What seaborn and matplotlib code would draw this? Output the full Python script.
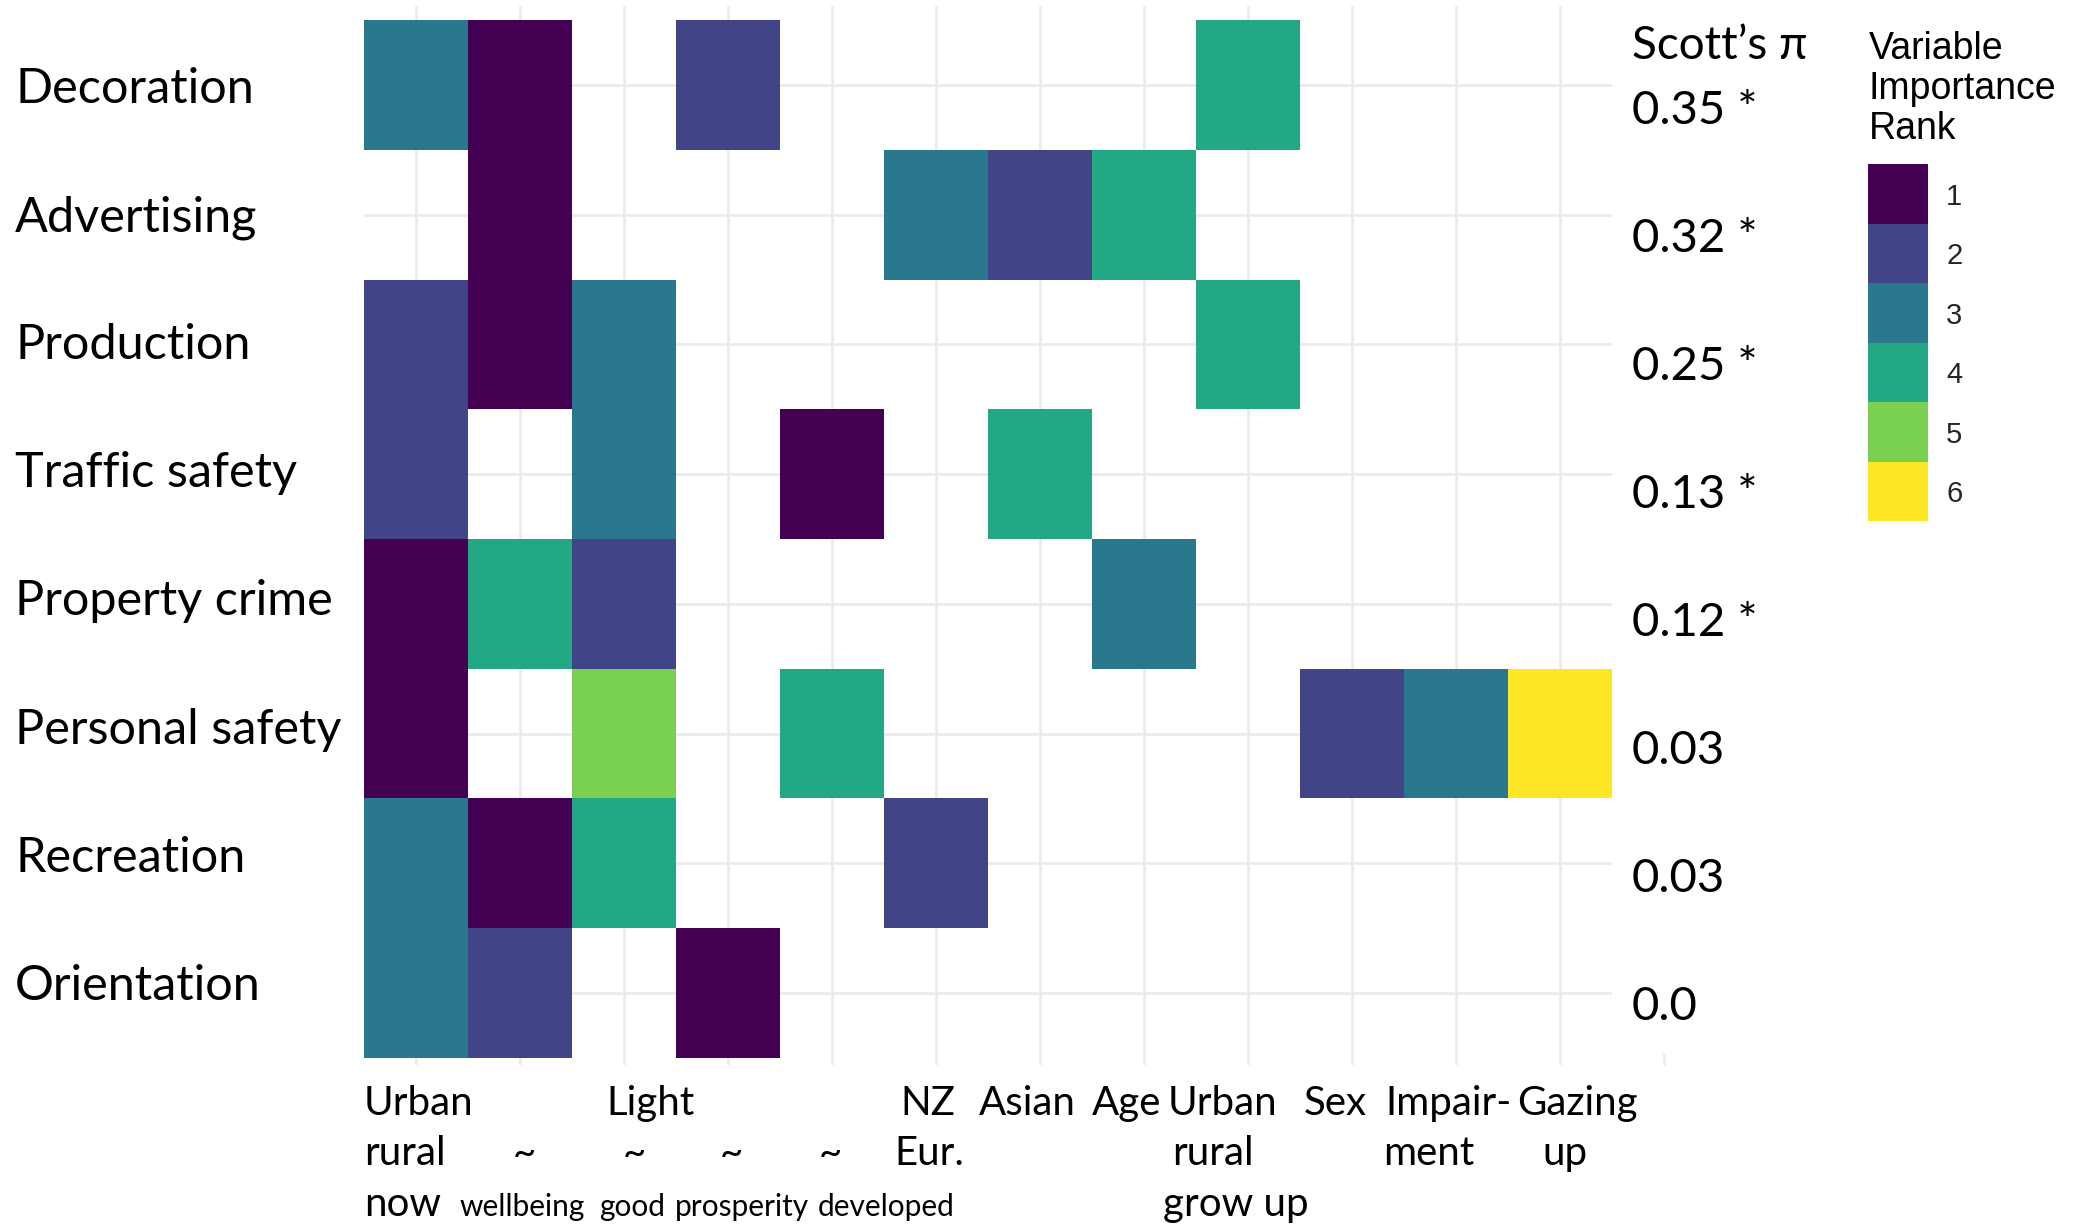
import numpy as np
import pandas as pd
import matplotlib
matplotlib.use("Agg")
import matplotlib.pyplot as plt
import matplotlib.transforms as mtransforms
from matplotlib.colors import ListedColormap
import seaborn as sns

# ---- data -------------------------------------------------------------
outcomes = ["Decoration", "Advertising", "Production", "Traffic safety",
            "Property crime", "Personal safety", "Recreation", "Orientation"]
predictors = ["Urban rural now", "~ wellbeing", "Light ~ good", "~ prosperity",
              "~ developed", "NZ Eur.", "Asian", "Age", "Urban rural grow up",
              "Sex", "Impairment", "Gazing up"]

nan = np.nan
rank_decoration = [3, 1, nan, 2, nan, nan, nan, nan, 4, nan, nan, nan]
rank_advertising = [nan, 1, nan, nan, nan, 3, 2, 4, nan, nan, nan, nan]
rank_production = [2, 1, 3, nan, nan, nan, nan, nan, 4, nan, nan, nan]
rank_traffic = [2, nan, 3, nan, 1, nan, 4, nan, nan, nan, nan, nan]
rank_property = [1, 4, 2, nan, nan, nan, nan, 3, nan, nan, nan, nan]
rank_personal = [1, nan, 5, nan, 4, nan, nan, nan, nan, 2, 3, 6]
rank_recreation = [3, 1, 4, nan, nan, 2, nan, nan, nan, nan, nan, nan]
rank_orientation = [3, 2, nan, 1, nan, nan, nan, nan, nan, nan, nan, nan]

scotts_pi = ["0.35 *", "0.32 *", "0.25 *", "0.13 *", "0.12 *", "0.03", "0.03", "0.0"]
rank_levels = [1, 2, 3, 4, 5, 6]

x_label_lines = [
    ("Urban", "rural", "now"),
    ("", "~", "wellbeing"),
    ("Light", "~", "good"),
    ("", "~", "prosperity"),
    ("", "~", "developed"),
    ("NZ", "Eur.", ""),
    ("Asian", "", ""),
    ("Age", "", ""),
    ("Urban", "rural", "grow up"),
    ("Sex", "", ""),
    ("Impair-", "ment", ""),
    ("Gazing", "up", ""),
]

# ---- layout (label placement in column units) --------------------------
x_label_centers = [
    (0.52, 0.39, 0.37),
    (None, 1.54, 1.52),
    (2.75, 2.60, 2.58),
    (None, 3.53, 3.63),
    (None, 4.48, 5.02),
    (5.42, 5.44, None),
    (6.38, None, None),
    (7.33, None, None),
    (8.25, 8.16, 8.38),
    (9.34, None, None),
    (10.43, 10.24, None),
    (11.67, 11.55, None),
]
small_third_line = {1, 2, 3, 4}
line_baselines_px = [1115, 1165, 1216]

W, H = 2092, 1226
ROW_PX = 129.75
GRID = "#EBEBEB"
TEXT_FONT = ["Lato", "DejaVu Sans"]
LEGEND_FONT = ["Liberation Sans", "DejaVu Sans"]

# discrete viridis steps for the six ranks
rank_colors = ["#440154", "#414487", "#2A788E", "#22A884", "#7AD151", "#FDE725"]

ranks = pd.DataFrame(
    [rank_decoration, rank_advertising, rank_production, rank_traffic,
     rank_property, rank_personal, rank_recreation, rank_orientation],
    index=outcomes, columns=predictors)

sns.set_theme(style="white")
fig = plt.figure(figsize=(W / 100, H / 100), dpi=100)
fig.patch.set_facecolor("white")

ax = fig.add_axes([364 / W, 1 - 1065 / H, 1248 / W, 1059 / H])
cax = fig.add_axes([1868 / W, 1 - 521 / H, 60 / W, 357 / H])

cmap = ListedColormap(rank_colors)

sns.heatmap(ranks, ax=ax, cmap=cmap, vmin=0.5, vmax=6.5,
            cbar=True, cbar_ax=cax, cbar_kws={"ticks": rank_levels},
            linewidths=0)

ax.set_xlim(0, len(predictors))
ax.set_ylim(len(outcomes) + 0.054, -0.108)
ax.set_axisbelow(True)
ax.grid(True, color=GRID, linewidth=2)
ax.tick_params(length=0, labelbottom=False, labelleft=False)
ax.set_xlabel("")
ax.set_ylabel("")
for s in ax.spines.values():
    s.set_visible(False)

# short grid stub beyond the last column
ax.vlines(len(predictors) + 0.5, len(outcomes) - 0.04, len(outcomes) + 0.054,
          color=GRID, linewidth=2, clip_on=False)

# row labels on the left
fig_x_data_y = mtransforms.blended_transform_factory(fig.transFigure, ax.transData)
for i, name in enumerate(outcomes):
    y = i + 0.5 + (18 - 1.6 * i) / ROW_PX
    ax.text(15 / W, y, name, transform=fig_x_data_y,
            ha="left", va="baseline", fontsize=35, family=TEXT_FONT,
            color="black")

# Scott's pi column
fig.text(1632 / W, 1 - 59 / H, "Scott\u2019s \u03c0", ha="left", va="baseline",
         fontsize=33, family=TEXT_FONT, color="black")
for i, val in enumerate(scotts_pi):
    y = i + 0.5 + (39 - 1.7 * i) / ROW_PX
    ax.text(1632 / W, y, val, transform=fig_x_data_y, ha="left",
            va="baseline", fontsize=34, family=TEXT_FONT, color="black")

# column labels below the tiles
data_x_fig_y = mtransforms.blended_transform_factory(ax.transData, fig.transFigure)
for c, (lines, centers) in enumerate(zip(x_label_lines, x_label_centers)):
    for k, (txt, xc) in enumerate(zip(lines, centers)):
        if not txt:
            continue
        size = 21.5 if (k == 2 and c in small_third_line) else 29
        ax.text(xc, 1 - line_baselines_px[k] / H, txt, transform=data_x_fig_y,
                ha="center", va="baseline", fontsize=size, family=TEXT_FONT,
                color="black")

# legend (discrete colour bar)
cax.invert_yaxis()
cax.tick_params(length=0, pad=13, labelsize=21)
for lab in cax.get_yticklabels():
    lab.set_family(LEGEND_FONT)
cbar = ax.collections[0].colorbar
cbar.outline.set_visible(False)
fig.text(1869 / W, 1 - 31 / H, "Variable\nImportance\nRank", ha="left",
         va="top", fontsize=27, linespacing=1.15,
         family=LEGEND_FONT, color="black")

fig.savefig("out.png", dpi=100, facecolor="white")
